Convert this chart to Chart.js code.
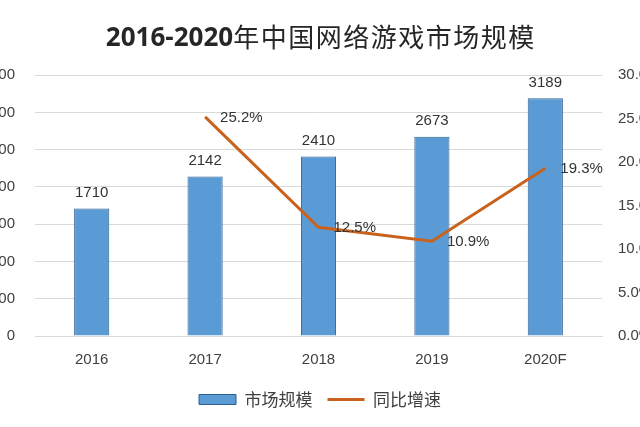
<!DOCTYPE html>
<html>
<head>
<meta charset="utf-8">
<script src="https://cdn.jsdelivr.net/npm/chart.js@4/dist/chart.umd.min.js"></script>
<style>
  html, body { margin: 0; padding: 0; background: #fff; overflow: hidden; }
  .wrap { position: relative; width: 640px; height: 427px; overflow: hidden; }
  /* canvas is a bit wider than the page so the outer tick labels get cut like in the picture */
  #chart { position: absolute; left: -30px; top: 0; }
</style>
</head>
<body>
<div class="wrap">
  <canvas id="chart" width="700" height="427"></canvas>
</div>
<script>
const years = ["2016", "2017", "2018", "2019", "2020F"];
const marketSize = [1710, 2142, 2410, 2673, 3189];
const growthRate = [null, 25.2, 12.5, 10.9, 19.3];
const titleParts = ["2016-2020", "年中国网络游戏市场规模"];

const txtFont = "'Liberation Sans', 'Noto Sans CJK SC', sans-serif";

// draws value labels (bars: above, line: to the right)
const valueLabels = {
  id: "valueLabels",
  afterDatasetsDraw(chart) {
    const ctx = chart.ctx;
    ctx.save();
    ctx.font = "15px " + txtFont;
    ctx.fillStyle = "#333333";
    chart.data.datasets.forEach((ds, i) => {
      const meta = chart.getDatasetMeta(i);
      meta.data.forEach((el, j) => {
        const v = ds.data[j];
        if (v == null) return;
        if (ds.type === "bar") {
          ctx.textAlign = "center";
          ctx.textBaseline = "bottom";
          ctx.fillText(v, el.x, el.y - 8);
        } else {
          ctx.textAlign = "left";
          ctx.textBaseline = "middle";
          ctx.fillText(v.toFixed(1) + "%", el.x + 15, el.y + 1);
        }
      });
    });
    ctx.restore();
  }
};

// title: bold digits, regular CJK (the built-in title only reserves the space)
const mixedTitle = {
  id: "mixedTitle",
  afterDraw(chart) {
    const tb = chart.titleBlock;
    const ctx = chart.ctx;
    const f1 = "bold 26px 'Open Sans', sans-serif";
    const f2 = "26px 'Noto Sans CJK SC', sans-serif";
    ctx.save();
    ctx.font = f1;
    const w1 = ctx.measureText(titleParts[0]).width;
    ctx.font = f2;
    const w2 = ctx.measureText(titleParts[1]).width + 10 * 1.5;
    const cx = (tb.left + tb.right) / 2;
    const cy = (tb.top + tb.bottom) / 2;
    let x = cx - (w1 + w2) / 2;
    ctx.textBaseline = "middle";
    ctx.textAlign = "left";
    ctx.fillStyle = "#262626";
    ctx.font = f1;
    ctx.fillText(titleParts[0], x, cy + 1);
    x += w1;
    ctx.font = f2;
    for (const ch of titleParts[1]) {
      ctx.fillText(ch, x, cy);
      x += ctx.measureText(ch).width + 1.5;
    }
    ctx.restore();
  }
};

new Chart(document.getElementById("chart"), {
  data: {
    labels: years,
    datasets: [
      {
        type: "bar",
        label: "市场规模",
        data: marketSize,
        yAxisID: "y",
        backgroundColor: "#5b9bd5",
        borderColor: "#2f5f8f",
        borderWidth: 1,
        barPercentage: 0.31,
        categoryPercentage: 1,
        order: 1
      },
      {
        type: "line",
        label: "同比增速",
        data: growthRate,
        yAxisID: "y1",
        borderColor: "#c9621c",
        backgroundColor: "#c9621c",
        borderWidth: 3,
        pointRadius: 0,
        tension: 0,
        order: 0
      }
    ]
  },
  options: {
    responsive: false,
    animation: false,
    layout: { padding: { left: 0, right: 0, top: 0, bottom: 9 } },
    scales: {
      x: {
        grid: { display: false },
        border: { color: "#d9d9d9" },
        ticks: { color: "#404040", font: { size: 15, family: txtFont }, padding: 7 }
      },
      y: {
        position: "left",
        min: 0,
        max: 3500,
        ticks: { stepSize: 500, color: "#404040", font: { size: 15, family: txtFont }, padding: 20 },
        grid: { color: "#d9d9d9", drawTicks: false },
        border: { display: false },
        afterFit: s => { s.width = 65; }
      },
      y1: {
        position: "right",
        min: 0,
        max: 30,
        ticks: {
          stepSize: 5,
          color: "#404040",
          font: { size: 15, family: txtFont },
          padding: 16,
          callback: v => v.toFixed(1) + "%"
        },
        grid: { display: false, drawTicks: false },
        border: { display: false },
        afterFit: s => { s.width = 68; }
      }
    },
    plugins: {
      tooltip: { enabled: false },
      title: {
        display: true,
        text: titleParts.join(""),
        color: "rgba(0,0,0,0)",
        font: { size: 26, weight: "bold", family: "'Open Sans', 'Noto Sans CJK SC', sans-serif" },
        padding: { top: 22, bottom: 22 }
      },
      legend: {
        position: "bottom",
        labels: {
          color: "#404040",
          font: { size: 17, family: "'Noto Sans CJK SC', sans-serif" },
          usePointStyle: true,
          pointStyleWidth: 37,
          boxHeight: 10,
          padding: 15,
          generateLabels: chart => chart.data.datasets.map((ds, i) => ({
            text: ds.label,
            datasetIndex: i,
            fillStyle: ds.backgroundColor,
            strokeStyle: ds.borderColor,
            lineWidth: ds.type === "bar" ? 1 : 3,
            pointStyle: ds.type === "bar" ? "rect" : "line",
            fontColor: "#404040"
          }))
        }
      }
    }
  },
  plugins: [valueLabels, mixedTitle]
});
</script>
</body>
</html>
